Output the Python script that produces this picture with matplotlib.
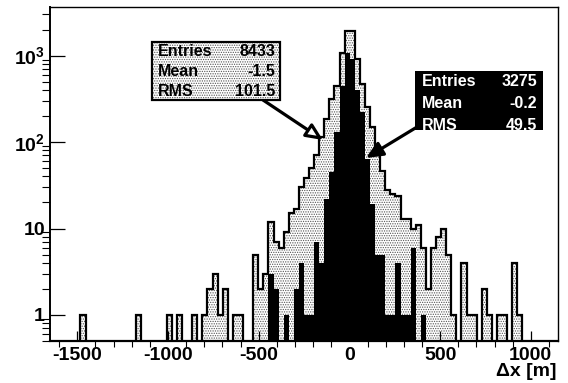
import numpy as np
import matplotlib
matplotlib.use('Agg')
import matplotlib.pyplot as plt
from matplotlib.patches import Rectangle
from matplotlib.ticker import MultipleLocator, NullFormatter, LogLocator

plt.rcParams['font.family'] = ['Liberation Sans', 'DejaVu Sans']
plt.rcParams['font.weight'] = 'bold'
plt.rcParams['axes.unicode_minus'] = False
plt.rcParams['mathtext.fontset'] = 'custom'
plt.rcParams['mathtext.rm'] = 'Liberation Sans:bold'
plt.rcParams['mathtext.it'] = 'Liberation Sans:bold'
plt.rcParams['mathtext.bf'] = 'Liberation Sans:bold'
plt.rcParams['hatch.linewidth'] = 0.6

# binning of both histograms: 100 bins of 28 m
x_low, x_high, n_bins = -1650, 1150, 100

# counts per bin, all events (dotted histogram)
wide_counts = [
    0, 0, 0, 0, 0, 0, 1, 0, 0, 0,
    0, 0, 0, 0, 0, 0, 0, 1, 0, 0,
    0, 0, 0, 1, 0, 1, 0, 0, 1, 0,
    1, 2, 3, 1, 2, 0, 1, 1, 0, 0,
    5, 2, 3, 12, 7, 6, 9, 15, 17, 30,
    38, 50, 70, 115, 185, 312, 450, 1060, 1930, 1930,
    925, 475, 255, 150, 80, 46, 28, 25, 24, 13,
    13, 10, 11, 6, 2, 6, 8, 10, 5, 1,
    0, 4, 1, 1, 0, 2, 1, 0, 1, 1,
    0, 4, 1, 0, 0, 0, 0, 0, 0, 0,
]

# counts per bin, selected events (black histogram)
narrow_counts = [
    0, 0, 0, 0, 0, 0, 0, 0, 0, 0,
    0, 0, 0, 0, 0, 0, 0, 0, 0, 0,
    0, 0, 0, 0, 0, 0, 0, 0, 0, 0,
    0, 0, 0, 0, 0, 0, 0, 0, 0, 0,
    0, 0, 0, 3, 2, 0, 1, 0, 2, 4,
    1, 1, 7, 4, 22, 45, 130, 450, 1060, 920,
    400, 220, 64, 19, 5, 5, 1, 1, 4, 1,
    1, 6, 0, 1, 0, 0, 0, 0, 0, 0,
    0, 0, 0, 0, 0, 0, 0, 0, 0, 0,
    0, 0, 0, 0, 0, 0, 0, 0, 0, 0,
]

stat_names = ['Entries', 'Mean', 'RMS']
wide_stats = ['8433', '-1.5', '101.5']
narrow_stats = ['3275', '-0.2', '49.5']

x_ticks = [-1500, -1000, -500, 0, 500, 1000]
y_ticks = [1, 10, 100, 1000]
y_tick_labels = ['1', '10', '$10^{2}$', '$10^{3}$']
x_title = '\u0394x [m]'

W, H = 568, 383


def fig_xy(px, py):
    # pixel position (from top left) -> figure fraction
    return px / W, 1 - py / H


fig = plt.figure(figsize=(W / 100, H / 100), dpi=100)
ax = fig.add_axes([50 / W, 1 - 341 / H, 508 / W, 334 / H])

edges = np.linspace(x_low, x_high, n_bins + 1)
floor = 0.1
wide = np.array(wide_counts, float)
narrow = np.array(narrow_counts, float)
wide_plot = np.where(wide > 0, wide, floor)
narrow_plot = np.where(narrow > 0, narrow, floor)

ax.stairs(wide_plot, edges, baseline=floor, fill=True, facecolor='white',
          edgecolor='#555555', linewidth=0, hatch='.......')
ax.stairs(wide_plot, edges, baseline=floor, color='black', linewidth=1.6)
ax.stairs(narrow_plot, edges, baseline=floor, fill=True, color='black', linewidth=0)

ax.set_yscale('log')
ax.set_xlim(x_low, x_high)
ax.set_ylim(0.5, 3650)
ax.set_xticks(x_ticks)
ax.xaxis.set_minor_locator(MultipleLocator(100))
ax.set_yticks(y_ticks, y_tick_labels)
ax.yaxis.set_minor_locator(LogLocator(subs=np.arange(2, 10)))
ax.yaxis.set_minor_formatter(NullFormatter())
ax.tick_params(direction='in', top=False, right=False, labelsize=14)
ax.tick_params(axis='x', which='major', length=7.5, width=0.9, pad=4.3)
ax.tick_params(axis='x', which='minor', length=4, width=0.8)
ax.tick_params(axis='y', which='major', length=11, width=0.9, pad=3.6)
ax.tick_params(axis='y', which='minor', length=5.5, width=0.8)
for s in ax.spines.values():
    s.set_linewidth(1.0)
ax.spines['bottom'].set_linewidth(1.6)
ax.spines['left'].set_linewidth(1.4)

fig.text(*fig_xy(557, 371), x_title, ha='right', va='center', fontsize=14)

# stat box of the dotted histogram
fig.add_artist(Rectangle(fig_xy(152, 100), 128 / W, 58 / H, transform=fig.transFigure,
                         facecolor='white', edgecolor='#555555', linewidth=0,
                         hatch='.......', zorder=4))
fig.add_artist(Rectangle(fig_xy(152, 100), 128 / W, 58 / H, transform=fig.transFigure,
                         fill=False, edgecolor='black', linewidth=1.6, zorder=4))
for i, (name, val) in enumerate(zip(stat_names, wide_stats)):
    y = 51 + 20 * i
    fig.text(*fig_xy(158, y), name, ha='left', va='center', fontsize=11.5, zorder=5)
    fig.text(*fig_xy(275, y), val, ha='right', va='center', fontsize=11.5, zorder=5)

# stat box of the black histogram
fig.add_artist(Rectangle(fig_xy(415, 130), 128 / W, 59 / H, transform=fig.transFigure,
                         facecolor='black', linewidth=0, zorder=4))
for i, (name, val) in enumerate(zip(stat_names, narrow_stats)):
    y = 82 + 21.5 * i
    fig.text(*fig_xy(422, y), name, ha='left', va='center', fontsize=11.5,
             color='white', zorder=5)
    fig.text(*fig_xy(537, y), val, ha='right', va='center', fontsize=11.5,
             color='white', zorder=5)

# arrows from boxes to histograms
ax.annotate('', xy=fig_xy(323, 140), xytext=fig_xy(263, 100),
            xycoords='figure fraction', textcoords='figure fraction',
            arrowprops=dict(arrowstyle='-|>,head_length=1.0,head_width=0.45',
                            lw=2.3, fc='white', ec='black',
                            shrinkA=0, shrinkB=0), zorder=6)
ax.annotate('', xy=fig_xy(366, 158), xytext=fig_xy(417, 127),
            xycoords='figure fraction', textcoords='figure fraction',
            arrowprops=dict(arrowstyle='-|>,head_length=1.0,head_width=0.45',
                            lw=2.3, fc='black', ec='black',
                            shrinkA=0, shrinkB=0), zorder=6)

fig.savefig('out.png', dpi=100)
